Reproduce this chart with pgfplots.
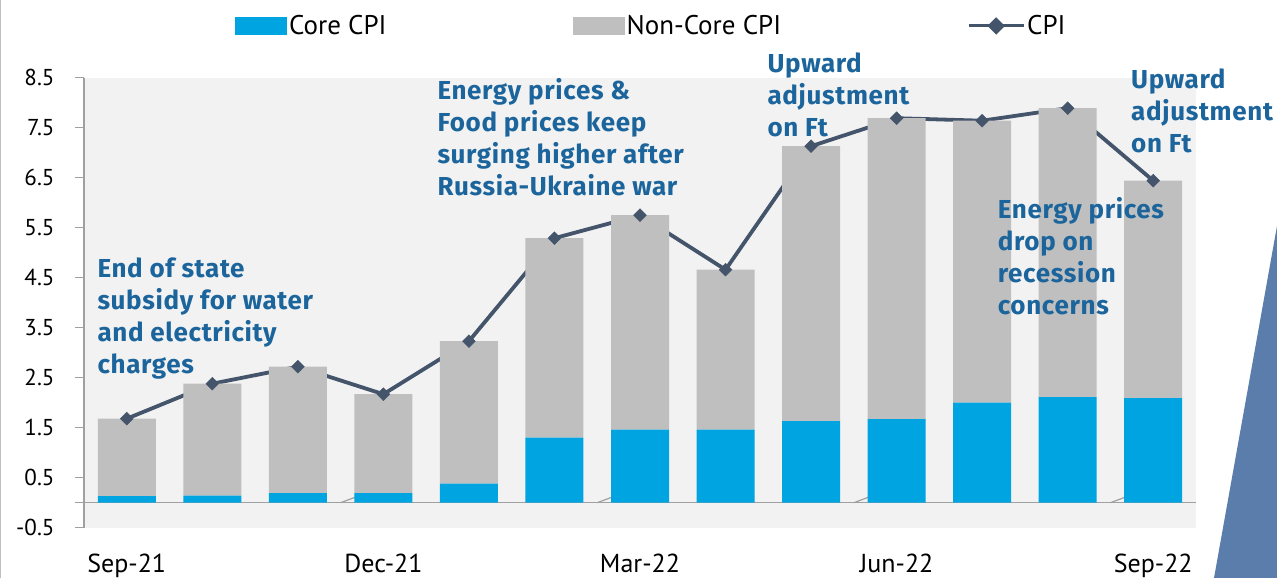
\documentclass[border=0pt]{standalone}
\usepackage{pgfplots}
\pgfplotsset{compat=1.18}
\usepackage{fontspec}
\setmainfont{PT Sans}
\newfontfamily\annfont[LetterSpace=2.5]{Fira Sans}
\definecolor{coreblue}{HTML}{00A4E1}
\definecolor{noncore}{HTML}{BFBFBF}
\definecolor{cpic}{HTML}{44546A}
\definecolor{annot}{HTML}{1C659C}
\definecolor{bgc}{HTML}{F2F2F2}
\definecolor{axgray}{HTML}{A0A0A0}
\definecolor{decor}{HTML}{5B7DAB}
\begin{document}
\begin{tikzpicture}[x=1pt,y=1pt]
\begin{axis}[
  scale only axis, width=1112pt, height=450pt,
  xmin=-0.5, xmax=12.5, ymin=-0.5, ymax=8.5,
  axis background/.style={fill=bgc},
  axis y line*=left, axis x line*=bottom,
  x axis line style={draw=none},
  y axis line style={draw=axgray, line width=1.2pt},
  ytick={-0.5,0.5,1.5,2.5,3.5,4.5,5.5,6.5,7.5,8.5},
  yticklabel style={/pgf/number format/fixed, /pgf/number format/fixed zerofill, /pgf/number format/precision=1, /pgf/number format/assume math mode=true, font=\fontsize{23}{23}\selectfont, text=black, xshift=-17pt},
  tick align=outside, major tick length=9pt,
  ytick style={draw=axgray, line width=1.2pt},
  xtick={0,3,6,9,12}, xticklabels={Sep-21,Dec-21,Mar-22,Jun-22,Sep-22},
  xtick style={draw=none},
  xticklabel style={font=\fontsize{26}{26}\selectfont, text=black, yshift=-14pt},
  extra y ticks={0}, extra y tick labels={},
  extra y tick style={grid=major, major grid style={draw=axgray, line width=1.5pt}, tick style={draw=none}},
  ybar stacked, bar width=58pt,
  legend style={draw=none, fill=none, at={(0.1358,1.115)}, anchor=west, legend columns=3,
    font=\fontsize{27}{27}\selectfont, inner sep=0pt,
    /tikz/every even column/.append style={column sep=184pt}},
  legend cell align=left,
]
\addplot[fill=coreblue, draw=none, legend image code/.code={\fill[coreblue] (0pt,-9pt) rectangle (52pt,9pt);}]
 coordinates {(0,0.13) (1,0.14) (2,0.19) (3,0.19) (4,0.38) (5,1.30) (6,1.46) (7,1.46) (8,1.63) (9,1.67) (10,2.00) (11,2.11) (12,2.09)};
\addlegendentry{Core CPI}
\addplot[fill=noncore, draw=none, legend image code/.code={\fill[noncore] (0pt,-9pt) rectangle (52pt,9pt);}]
 coordinates {(0,1.55) (1,2.24) (2,2.53) (3,1.98) (4,2.85) (5,3.99) (6,4.29) (7,3.20) (8,5.50) (9,6.02) (10,5.64) (11,5.78) (12,4.35)};
\addlegendentry{Non-Core CPI\hspace{27pt}}
\addplot[stack plots=false, sharp plot, draw=cpic, line width=3.8pt, mark=square*, mark size=4.5pt,
  mark options={rotate=45, fill=cpic, draw=cpic, line width=0.5pt},
  legend image code/.code={\draw[cpic, line width=3pt] (0pt,0pt) -- (55pt,0pt);
    \fill[cpic] (21.5pt,0pt) -- (27.5pt,6pt) -- (33.5pt,0pt) -- (27.5pt,-6pt) -- cycle;}]
 coordinates {(0,1.68) (1,2.38) (2,2.72) (3,2.17) (4,3.23) (5,5.29) (6,5.75) (7,4.66) (8,7.13) (9,7.69) (10,7.64) (11,7.89) (12,6.44)};
\addlegendentry{CPI}
\draw[axgray, line width=1.2pt] (axis cs:2.5,0) -- ++(0,-9pt);
\draw[axgray, line width=1.2pt] (axis cs:5.5,0) -- ++(0,-9pt);
\draw[axgray, line width=1.2pt] (axis cs:8.5,0) -- ++(0,-9pt);
\draw[axgray, line width=1.2pt] (axis cs:11.5,0) -- ++(0,-9pt);
\coordinate (O) at (rel axis cs:0,0);
\end{axis}
\begin{scope}[shift={(O)}, xshift=-84pt, yshift=-50.3pt]
\fill[decor] (1277,352) -- (1214,0) -- (1277,0) -- cycle;
\draw[noncore, line width=1.5pt] (0.75,0) -- (0.75,578);
\begin{scope}[every node/.style={anchor=base west, align=left, inner sep=0pt, text=annot, font=\annfont\fontsize{26}{32}\selectfont\bfseries}]
\node at (97.3,204.7) {End of state\\subsidy for water\\and electricity\\charges};
\node at (437.3,382) {Energy prices \&\\Food prices keep\\surging higher after\\Russia-Ukraine war};
\node at (767.3,441.7) {Upward\\adjustment\\on Ft};
\node at (1131,425.7) {Upward\\adjustment\\on Ft};
\node at (997.7,263.7) {Energy prices\\drop on\\recession\\concerns};
\end{scope}
\pgfresetboundingbox
\path[use as bounding box] (0,0) rectangle (1277,578);
\end{scope}
\end{tikzpicture}
\end{document}
